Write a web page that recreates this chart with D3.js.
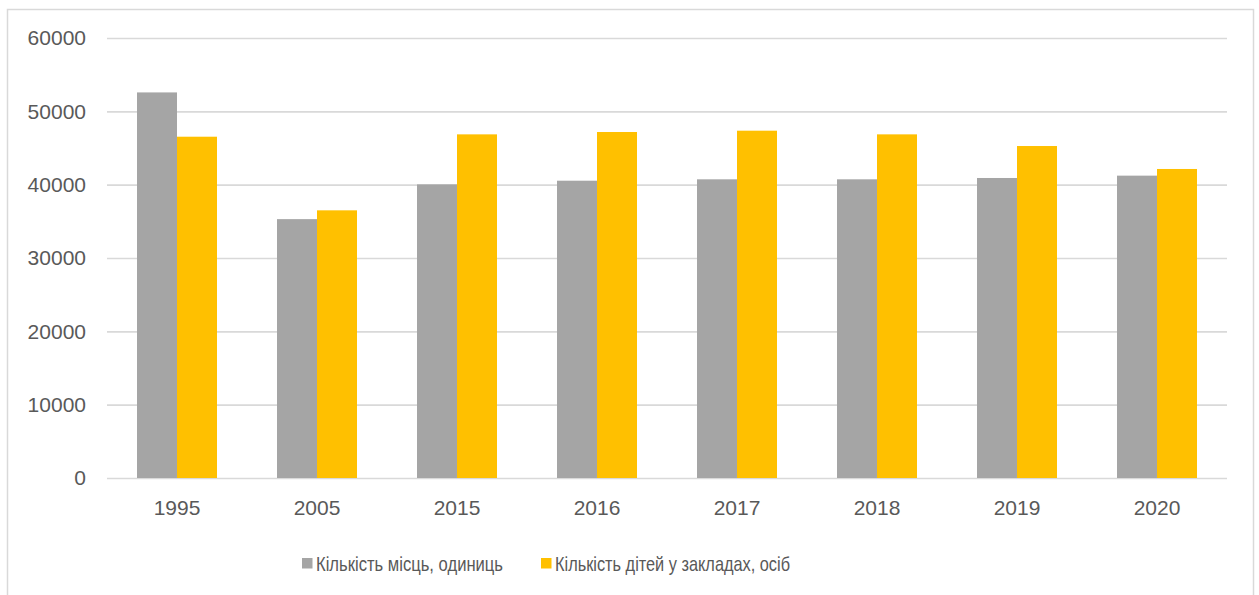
<!DOCTYPE html>
<html>
<head>
<meta charset="utf-8">
<script src="https://cdn.jsdelivr.net/npm/d3@7"></script>
<style>
    body { margin: 0; background: #fff; }
    text { font-family: "Liberation Sans", Arial, sans-serif; fill: #595959; }
</style>
</head>
<body>
<div id="chart"></div>
<script>
//grouped bar chart, two series per year
var years = ['1995', '2005', '2015', '2016', '2017', '2018', '2019', '2020'];
var seriesNames = ['Кількість місць, одиниць', 'Кількість дітей у закладах, осіб'];
var places = [52580, 35300, 40040, 40540, 40730, 40730, 40910, 41230];
var children = [46540, 36500, 46860, 47180, 47360, 46860, 45270, 42140];
var yTicks = [0, 10000, 20000, 30000, 40000, 50000, 60000];
var colors = ['#A5A5A5', '#FFC000'];

var width = 1259,
    height = 595;

var margin = {
    top: 38,
    left: 107,
    bottom: 117,
    right: 32
}

function initVis() {

    var svg = d3.select('#chart')
        .append('svg')
        .attr('width', width)
        .attr('height', height)

    // chart frame
    svg.append('rect')
        .attr('x', 7.5)
        .attr('y', 9.5)
        .attr('width', 1246)
        .attr('height', 600)
        .attr('fill', 'none')
        .attr('stroke', '#D9D9D9')
        .attr('stroke-width', 1.5)

    var x0 = d3.scaleBand()
        .domain(years)
        .range([margin.left, width - margin.right])
        .paddingInner(0)
        .paddingOuter(0);

    // Excel gap width 150%
    var barW = x0.bandwidth() / 3.5;

    var y = d3.scaleLinear()
        .domain([0, 60000])
        .range([height - margin.bottom, margin.top]);

    var yAxis = d3.axisLeft(y)
        .tickValues(yTicks)
        .tickSize(-(width - margin.left - margin.right))
        .tickPadding(21)
        .tickFormat(d3.format('d'));

    var gy = svg.append('g')
        .attr('transform', 'translate(' + margin.left + ',0)')
        .call(yAxis);

    gy.select('.domain').remove();
    gy.selectAll('line')
        .attr('stroke', '#D9D9D9')
        .attr('stroke-width', 1.6);
    gy.selectAll('text')
        .attr('font-size', 21)
        .attr('fill', '#595959')
        .attr('font-family', '"Liberation Sans", Arial, sans-serif');

    var groups = svg.selectAll('.year')
        .data(years).enter().append('g')
        .attr('class', 'year')
        .attr('transform', function(d) {
            return 'translate(' + (x0(d) + x0.bandwidth() / 2 - barW) + ',0)';
        });

    groups.each(function(d, i) {
        var vals = [places[i], children[i]];
        d3.select(this).selectAll('rect')
            .data(vals)
            .enter()
            .append('rect')
            .attr('x', function(v, j) { return j * barW })
            .attr('y', function(v) { return y(v) })
            .attr('width', barW)
            .attr('height', function(v) { return y(0) - y(v) })
            .attr('fill', function(v, j) { return colors[j] })
    });

    var xAxis = d3.axisBottom(x0)
        .tickSize(0)
        .tickPadding(22);

    var gx = svg.append('g')
        .attr('transform', 'translate(0,' + y(0) + ')')
        .call(xAxis);

    gx.select('.domain').remove();
    gx.selectAll('text')
        .attr('font-size', 21)
        .attr('fill', '#595959')
        .attr('font-family', '"Liberation Sans", Arial, sans-serif');

    // legend (narrow font in the original, so squeeze to its width)
    var legendX = [302, 541];
    var legendLen = [187, 235];
    var legend = svg.append('g')
        .attr('class', 'legend')
        .selectAll('g').data(seriesNames)
        .enter().append('g')
        .attr('transform', function(d, i) {
            return 'translate(' + legendX[i] + ',558)';
        });

    legend.append('rect')
        .attr('width', 10.5)
        .attr('height', 10.5)
        .attr('fill', function(d, i) { return colors[i] });

    legend.append('text')
        .attr('x', 14)
        .attr('y', 5.5)
        .attr('dy', '0.35em')
        .attr('font-size', 21)
        .attr('textLength', function(d, i) { return legendLen[i] })
        .attr('lengthAdjust', 'spacingAndGlyphs')
        .text(function(d) { return d });
}

initVis();
</script>
</body>
</html>
